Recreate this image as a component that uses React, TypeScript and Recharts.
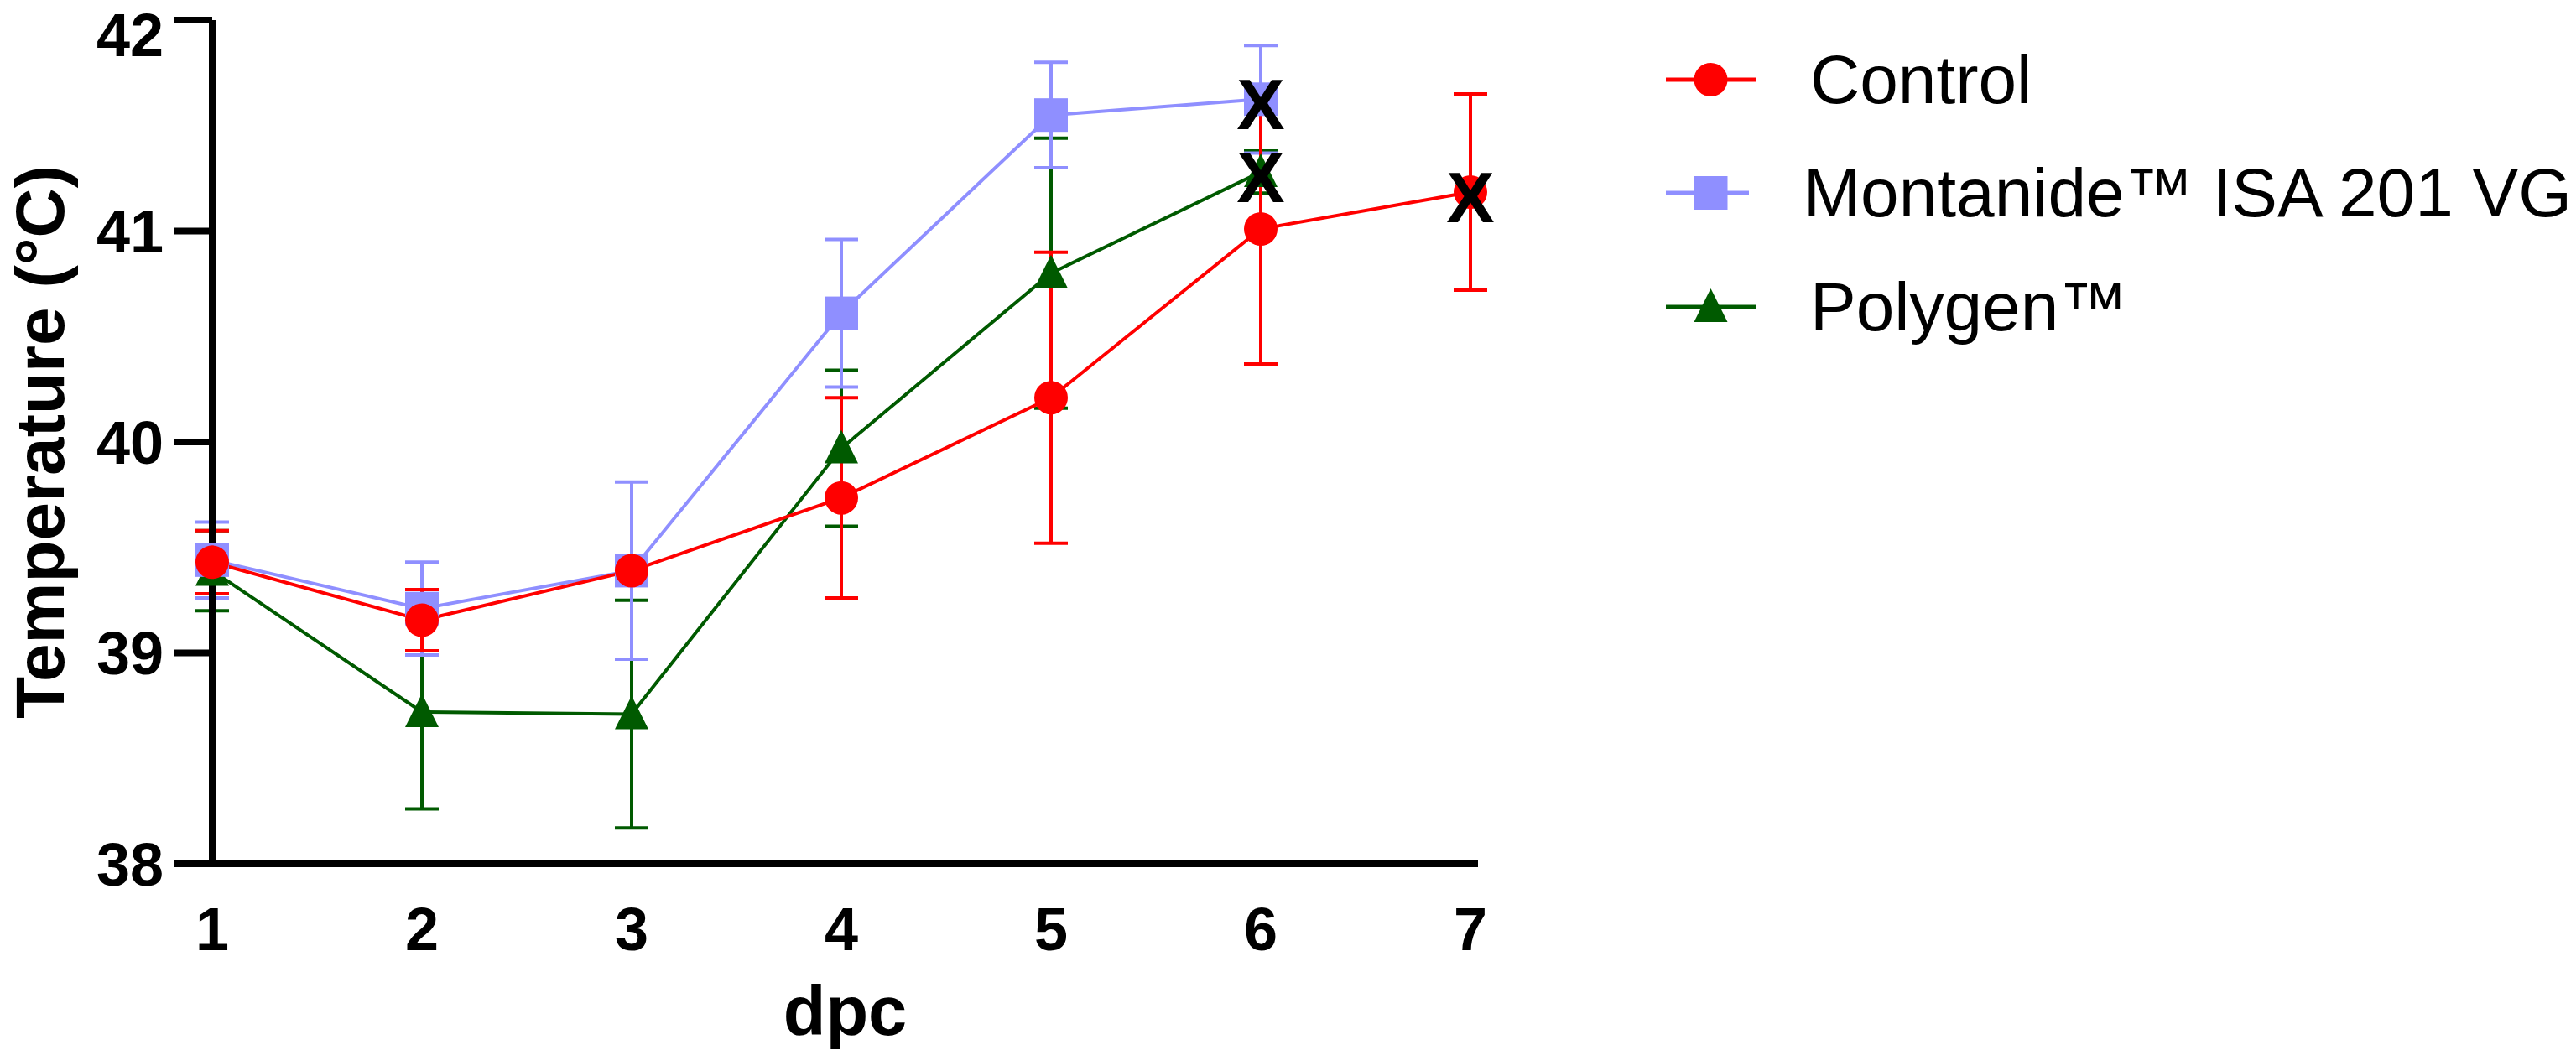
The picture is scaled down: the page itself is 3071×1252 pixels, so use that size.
import {
  ComposedChart,
  Line,
  ErrorBar,
  XAxis,
  YAxis,
  Legend,
  Label,
} from "recharts";

const FONT = '"Liberation Sans", Arial, sans-serif';

const dpc = [1, 2, 3, 4, 5, 6, 7];

const control = [39.43, 39.155, 39.39, 39.735, 40.21, 41.01, 41.185];
const controlErr = [0.15, 0.145, 0.05, 0.475, 0.69, 0.64, 0.465];

const montanide = [39.44, 39.21, 39.39, 40.61, 41.55, 41.625, null];
const montanideErr = [0.18, 0.22, 0.42, 0.35, 0.25, 0.255, null];

const polygen = [39.39, 38.72, 38.71, 39.97, 40.8, 41.28, null];
const polygenErr = [0.19, 0.46, 0.54, 0.37, 0.64, 0.1, null];

// last reading of each group (black X)
const controlEnd = [null, null, null, null, null, null, 41.185];
const montanideEnd = [null, null, null, null, null, 41.625, null];
const polygenEnd = [null, null, null, null, null, 41.28, null];

const yTicks = [38, 39, 40, 41, 42];

const RED = "#FF0000";
const BLUE = "#8F8FFF";
const GREEN = "#005A00";

const data = dpc.map((d, i) => ({
  dpc: d,
  control: control[i],
  controlErr: controlErr[i],
  montanide: montanide[i],
  montanideErr: montanideErr[i],
  polygen: polygen[i],
  polygenErr: polygenErr[i],
  controlEnd: controlEnd[i],
  montanideEnd: montanideEnd[i],
  polygenEnd: polygenEnd[i],
}));

const series = [
  { name: "Control", color: RED, shape: "circle" },
  { name: "Montanide™ ISA 201 VG", color: BLUE, shape: "square" },
  { name: "Polygen™", color: GREEN, shape: "triangle" },
];

const Marker = ({ cx, cy, shape, color }: any) => {
  if (cx == null || cy == null) return null;
  if (shape === "circle") return <circle cx={cx} cy={cy} r={20} fill={color} />;
  if (shape === "square")
    return <rect x={cx - 20} y={cy - 20} width={40} height={40} fill={color} />;
  return (
    <polygon
      points={`${cx},${cy - 22} ${cx - 20},${cy + 18} ${cx + 20},${cy + 18}`}
      fill={color}
    />
  );
};

const makeDot = (shape: string, color: string) => (props: any) => {
  if (props.value == null) return <g key={props.index} />;
  return <Marker key={props.index} cx={props.cx} cy={props.cy} shape={shape} color={color} />;
};

const crossDot = (props: any) => {
  if (props.value == null || props.cy == null) return <g key={props.index} />;
  return (
    <text
      key={props.index}
      x={props.cx}
      y={props.cy + 6}
      textAnchor="middle"
      dominantBaseline="central"
      fontFamily={FONT}
      fontWeight="bold"
      fontSize={86}
      fill="#000"
    >
      X
    </text>
  );
};

const LegendBox = () => (
  <div style={{ fontFamily: FONT }}>
    {series.map((s) => (
      <div
        key={s.name}
        style={{ display: "flex", alignItems: "center", height: 135.5 }}
      >
        <svg width={107} height={50} style={{ display: "block" }}>
          <line x1={0} y1={25} x2={107} y2={25} stroke={s.color} strokeWidth={5} />
          <Marker cx={53.5} cy={25} shape={s.shape} color={s.color} />
        </svg>
        <span
          style={{
            marginLeft: 65,
            fontSize: 82,
            color: "#000",
            whiteSpace: "nowrap",
            lineHeight: 1,
          }}
        >
          {s.name}
        </span>
      </div>
    ))}
  </div>
);

const YTitle = (props: any) => {
  const vb = props.viewBox || { x: 0, y: 24, width: 253, height: 1006 };
  const cy = vb.y + vb.height / 2;
  return (
    <text
      x={76}
      y={cy}
      transform={`rotate(-90, 76, ${cy})`}
      textAnchor="middle"
      fontFamily={FONT}
      fontWeight="bold"
      fontSize={82}
      fill="#000"
    >
      Temperature (°C)
    </text>
  );
};

const tickStyle = {
  fontFamily: FONT,
  fontWeight: "bold",
  fontSize: 72,
  fill: "#000",
};

export default function App() {
  return (
    <div style={{ position: "fixed", left: 0, top: 0, width: 3071, height: 1252, background: "#fff" }}>
      <ComposedChart
        width={3071}
        height={1252}
        data={data}
        margin={{ top: 24, right: 1309, bottom: 0, left: 0 }}
      >
        <XAxis
          dataKey="dpc"
          type="number"
          domain={[1, 7]}
          ticks={dpc}
          padding={{ left: 0, right: 9 }}
          height={222}
          axisLine={{ stroke: "#000", strokeWidth: 8 }}
          tickLine={false}
          tickSize={0}
          tickMargin={52}
          tick={tickStyle}
        >
          <Label
            value="dpc"
            position="insideBottom"
            offset={18}
            style={{ fontFamily: FONT, fontWeight: "bold", fontSize: 83, fill: "#000" }}
          />
        </XAxis>
        <YAxis
          type="number"
          domain={[38, 42]}
          ticks={yTicks}
          width={253}
          axisLine={{ stroke: "#000", strokeWidth: 8 }}
          tickLine={{ stroke: "#000", strokeWidth: 8 }}
          tickSize={46}
          tickMargin={12}
          tick={tickStyle}
        >
          <Label content={<YTitle />} />
        </YAxis>
        <Legend
          layout="vertical"
          align="center"
          verticalAlign="middle"
          content={() => <LegendBox />}
          wrapperStyle={{ position: "absolute", left: 1986, top: 27, width: 1080, height: 420 }}
        />
        <Line
          dataKey="polygen"
          name="Polygen™"
          stroke={GREEN}
          strokeWidth={4}
          dot={makeDot("triangle", GREEN)}
          activeDot={false}
          isAnimationActive={false}
        >
          <ErrorBar dataKey="polygenErr" width={20} stroke={GREEN} strokeWidth={4} direction="y" />
        </Line>
        <Line
          dataKey="montanide"
          name="Montanide™ ISA 201 VG"
          stroke={BLUE}
          strokeWidth={4}
          dot={makeDot("square", BLUE)}
          activeDot={false}
          isAnimationActive={false}
        >
          <ErrorBar dataKey="montanideErr" width={20} stroke={BLUE} strokeWidth={4} direction="y" />
        </Line>
        <Line
          dataKey="control"
          name="Control"
          stroke={RED}
          strokeWidth={4}
          dot={makeDot("circle", RED)}
          activeDot={false}
          isAnimationActive={false}
        >
          <ErrorBar dataKey="controlErr" width={20} stroke={RED} strokeWidth={4} direction="y" />
        </Line>
        {["montanideEnd", "polygenEnd", "controlEnd"].map((k) => (
          <Line
            key={k}
            dataKey={k}
            stroke="none"
            dot={crossDot}
            activeDot={false}
            legendType="none"
            isAnimationActive={false}
          />
        ))}
      </ComposedChart>
    </div>
  );
}
